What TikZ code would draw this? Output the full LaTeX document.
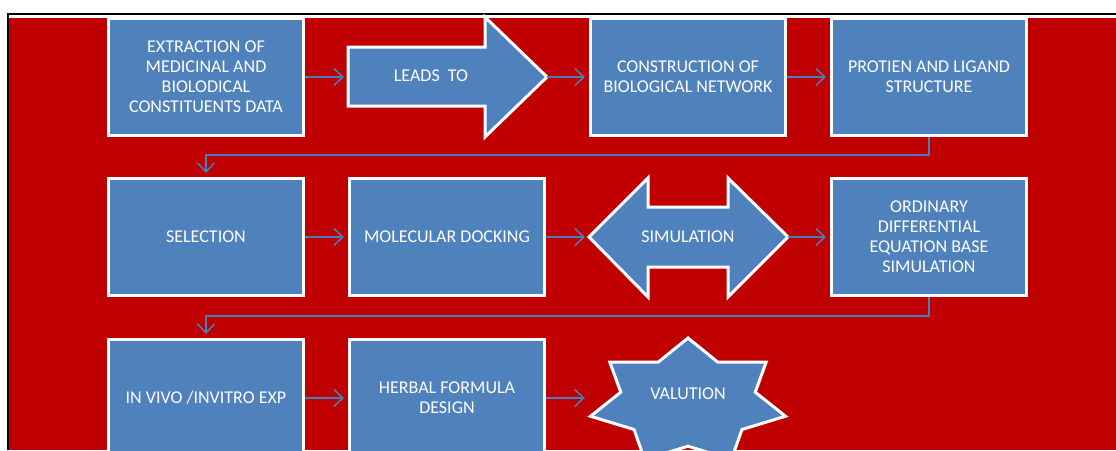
\documentclass[tikz,border=0pt]{standalone}
\usepackage{fontspec}
\setmainfont{Carlito}
\usetikzlibrary{arrows.meta}
\definecolor{bgred}{HTML}{C00000}
\definecolor{boxblue}{HTML}{4F81BD}
\definecolor{linkblue}{HTML}{4A7EBB}
\begin{document}
\begin{tikzpicture}[x=1pt,y=-1pt,
  box/.style={draw=white,line width=3pt,fill=boxblue,minimum width=195pt,minimum height=117pt,
    inner sep=0pt,align=center,text=white,font=\fontsize{18}{20}\selectfont},
  blockshape/.style={draw=white,line width=3pt,fill=boxblue,line join=miter},
  label/.style={inner sep=0pt,align=center,text=white,font=\fontsize{18}{20}\selectfont},
  link/.style={draw=linkblue,line width=1.5pt,shorten >=4pt,-{Straight Barb[length=9pt,width=17pt]}}]
\useasboundingbox (0,0) rectangle (1116,450);
\clip (0,0) rectangle (1116,450);
\fill[white] (0,0) rectangle (1116,450);
\fill[bgred] (8.5,18) rectangle (1116,450);
\draw[line width=2pt] (7.5,450) |- (1116,13.5);

% first row
\node[box] (ext) at (206,77) {EXTRACTION OF\\MEDICINAL AND\\BIOLODICAL\\CONSTITUENTS DATA};
\draw[blockshape] (348,47) -- (485,47) -- (485,17) -- (547,77) -- (485,137) -- (485,106) -- (348,106) -- cycle;
\node[label] (leads) at (431,76) {LEADS\ \ TO};
\coordinate (leadsin) at (348,77);
\coordinate (leadsout) at (547,77);
\node[box] (cons) at (688,77) {CONSTRUCTION OF\\BIOLOGICAL NETWORK};
\node[box] (prot) at (929,77) {PROTIEN AND LIGAND\\STRUCTURE};

% second row
\node[box] (sel) at (206,237) {SELECTION};
\node[box] (dock) at (447,237) {MOLECULAR DOCKING};
\draw[blockshape] (589,237) -- (648,178) -- (648,207) -- (728,207) -- (728,178) -- (788,237)
  -- (728,297) -- (728,267) -- (648,267) -- (648,297) -- cycle;
\node[label] (sim) at (688,237) {SIMULATION};
\coordinate (simin) at (589,237);
\coordinate (simout) at (788,237);
\node[box] (ode) at (929,237) {ORDINARY\\DIFFERENTIAL\\EQUATION BASE\\SIMULATION};

% third row
\node[box] (vivo) at (206,398) {IN VIVO /INVITRO EXP};
\node[box] (herb) at (447,398) {HERBAL FORMULA\\DESIGN};
\draw[blockshape] plot[samples at={0,...,13}]
  ({688+100*(mod(\x,2)==0 ? 1 : 0.69)*sin(\x*180/7)},{402-64*(mod(\x,2)==0 ? 1 : 0.69)*cos(\x*180/7)}) -- cycle;
\node[label,minimum width=198pt] (val) at (688,394) {VALUTION};

% connectors
\draw[link] (ext.east) -- (leadsin);
\draw[link] (leadsout) -- (cons.west);
\draw[link] (cons) -- (prot);
\draw[link] (prot.south) -- ++(0,18) -| (sel.north);
\draw[link] (sel) -- (dock);
\draw[link] (dock.east) -- (simin);
\draw[link] (simout) -- (ode.west);
\draw[link] (ode.south) -- ++(0,19) -| (vivo.north);
\draw[link] (vivo) -- (herb);
\draw[link] (herb.east) -- (herb.east -| val.west);
\end{tikzpicture}
\end{document}
